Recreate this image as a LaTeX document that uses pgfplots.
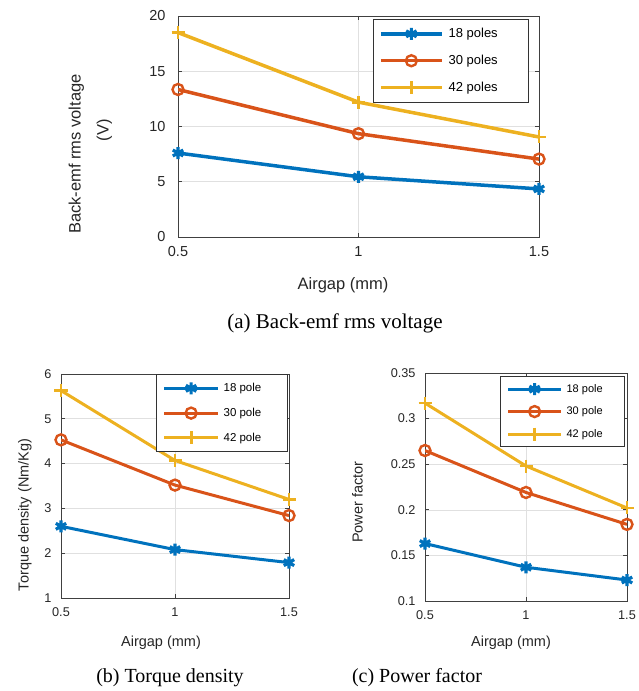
\documentclass[border=0pt]{standalone}
\usepackage{fontspec}
\setmainfont{Liberation Sans}
\newfontfamily\capfont{Liberation Serif}
\usepackage{pgfplots}
\pgfplotsset{compat=1.18}
\definecolor{mblue}{rgb}{0,0.447,0.741}
\definecolor{morange}{rgb}{0.85,0.325,0.098}
\definecolor{myellow}{rgb}{0.929,0.694,0.125}
\pgfplotsset{
  mstyle/.style={
    scale only axis,
    xmin=0.5, xmax=1.5, xtick={0.5,1,1.5},
    /pgf/number format/assume math mode=true,
    axis line style={black!75, line width=0.8bp},
    tick style={black!75, line width=0.8bp},
    major tick length=4bp,
    tick align=inside,
    grid=major,
    major grid style={black!12, line width=0.6bp},
    legend cell align=left,
  },
  s18/.style={mblue, line width=#1, mark=asterisk, mark size=6bp, mark options={line width=3.2bp}},
  s30/.style={morange, line width=#1, mark=o, mark size=5.5bp, mark options={line width=2.4bp}},
  s42/.style={myellow, line width=#1, mark=+, mark size=6.5bp, mark options={line width=2.8bp}},
}
\begin{document}
\begin{tikzpicture}
\useasboundingbox (0,0) rectangle (639bp,691bp);
% ---------- (a) ----------
\begin{axis}[mstyle,
  at={(178bp,454bp)}, anchor=south west,
  width=361bp, height=221bp,
  ymin=0, ymax=20, ytick={0,5,10,15,20},
  tick label style={font=\fontsize{14.5bp}{17bp}\selectfont, black!85},
  xticklabel style={yshift=-6bp},
  yticklabel style={xshift=-9bp},
  xlabel={Airgap (mm)},
  xlabel style={at={(axis description cs:0.5,0)}, anchor=center, xshift=-15.5bp, yshift=-48bp, font=\fontsize{16.5bp}{20bp}\selectfont, black!85},
  ylabel={\begin{tabular}{@{}c@{}}\makebox[0pt][c]{\hspace*{-48bp}Back-emf rms voltage}\\(V)\end{tabular}},
  ylabel style={at={(rel axis cs:-0.2465,0.484)}, anchor=center, font=\fontsize{16.5bp}{28bp}\selectfont, black!85},
  legend style={at={(rel axis cs:1,1)}, anchor=north east, xshift=-10bp, yshift=-3bp,
    draw=black!80, line width=0.8bp, fill=white, font=\fontsize{13bp}{15bp}\selectfont,
    inner xsep=6bp, inner ysep=7bp, row sep=12bp,
    /tikz/every odd column/.append style={column sep=3bp}},
  legend image code/.code={\draw[mark repeat=2,mark phase=2] plot coordinates {(0bp,0bp)(30.5bp,0bp)(61bp,0bp)};},
]
\addplot[s18=3.5bp] coordinates {(0.5,7.6) (1,5.45) (1.5,4.35)};
\addlegendentry{\makebox[72bp][l]{18 poles}}
\addplot[s30=3.5bp] coordinates {(0.5,13.35) (1,9.35) (1.5,7.05)};
\addlegendentry{\makebox[72bp][l]{30 poles}}
\addplot[s42=3.5bp] coordinates {(0.5,18.5) (1,12.2) (1.5,9.05)};
\addlegendentry{\makebox[72bp][l]{42 poles}}
\end{axis}
% ---------- (b) ----------
\begin{axis}[mstyle,
  at={(61bp,93bp)}, anchor=south west,
  width=228bp, height=224bp,
  ymin=1, ymax=6, ytick={1,2,3,4,5,6},
  tick label style={font=\fontsize{12.7bp}{15bp}\selectfont, black!85},
  xticklabel style={yshift=-6bp},
  yticklabel style={xshift=-6bp},
  xlabel={Airgap (mm)},
  xlabel style={at={(axis description cs:0.5,0)}, anchor=center, xshift=-14bp, yshift=-45bp, font=\fontsize{14.5bp}{17bp}\selectfont, black!85},
  ylabel={Torque density (Nm/Kg)},
  ylabel style={at={(rel axis cs:-0.158,0.371)}, anchor=center, font=\fontsize{14.5bp}{17bp}\selectfont, black!85},
  legend style={at={(rel axis cs:1,1)}, anchor=north east, xshift=-1bp, yshift=0bp,
    draw=black!80, line width=0.8bp, fill=white, font=\fontsize{11.5bp}{14bp}\selectfont,
    inner xsep=6bp, inner ysep=7bp, row sep=11bp,
    /tikz/every odd column/.append style={column sep=2bp}},
  legend image code/.code={\draw[mark repeat=2,mark phase=2] plot coordinates {(0bp,0bp)(27bp,0bp)(54bp,0bp)};},
]
\addplot[s18=3bp] coordinates {(0.5,2.6) (1,2.08) (1.5,1.79)};
\addlegendentry{\makebox[56bp][l]{18 pole}}
\addplot[s30=3bp] coordinates {(0.5,4.53) (1,3.52) (1.5,2.84)};
\addlegendentry{\makebox[56bp][l]{30 pole}}
\addplot[s42=3bp] coordinates {(0.5,5.63) (1,4.07) (1.5,3.2)};
\addlegendentry{\makebox[56bp][l]{42 pole}}
\end{axis}
% ---------- (c) ----------
\begin{axis}[mstyle,
  at={(425bp,90bp)}, anchor=south west,
  width=202bp, height=228bp,
  ymin=0.1, ymax=0.35, ytick={0.1,0.15,0.2,0.25,0.3,0.35},
  /pgf/number format/fixed, /pgf/number format/precision=2,
  tick label style={font=\fontsize{12.7bp}{15bp}\selectfont, black!85},
  xticklabel style={yshift=-6bp},
  yticklabel style={xshift=-6bp},
  xlabel={Airgap (mm)},
  xlabel style={at={(axis description cs:0.5,0)}, anchor=center, xshift=-15bp, yshift=-42bp, font=\fontsize{14.5bp}{17bp}\selectfont, black!85},
  ylabel={Power factor},
  ylabel style={at={(rel axis cs:-0.335,0.434)}, anchor=center, font=\fontsize{14.5bp}{17bp}\selectfont, black!85},
  legend style={at={(rel axis cs:1,1)}, anchor=north east, xshift=-2bp, yshift=-3bp,
    draw=black!80, line width=0.8bp, fill=white, font=\fontsize{11bp}{13bp}\selectfont,
    inner xsep=6bp, inner ysep=6bp, row sep=9bp,
    /tikz/every odd column/.append style={column sep=2bp}},
  legend image code/.code={\draw[mark repeat=2,mark phase=2] plot coordinates {(0bp,0bp)(26.5bp,0bp)(53bp,0bp)};},
]
\addplot[s18=3bp] coordinates {(0.5,0.163) (1,0.137) (1.5,0.123)};
\addlegendentry{\makebox[50bp][l]{18 pole}}
\addplot[s30=3bp] coordinates {(0.5,0.265) (1,0.219) (1.5,0.184)};
\addlegendentry{\makebox[50bp][l]{30 pole}}
\addplot[s42=3bp] coordinates {(0.5,0.317) (1,0.248) (1.5,0.202)};
\addlegendentry{\makebox[50bp][l]{42 pole}}
\end{axis}
% ---------- captions ----------
\node[font=\capfont\fontsize{21bp}{24bp}\selectfont] at (335bp,368bp) {(a) Back-emf rms voltage};
\node[font=\capfont\fontsize{20bp}{24bp}\selectfont] at (170bp,13bp) {(b) Torque density};
\node[font=\capfont\fontsize{20bp}{24bp}\selectfont] at (417bp,13bp) {(c) Power factor};
\end{tikzpicture}
\end{document}
